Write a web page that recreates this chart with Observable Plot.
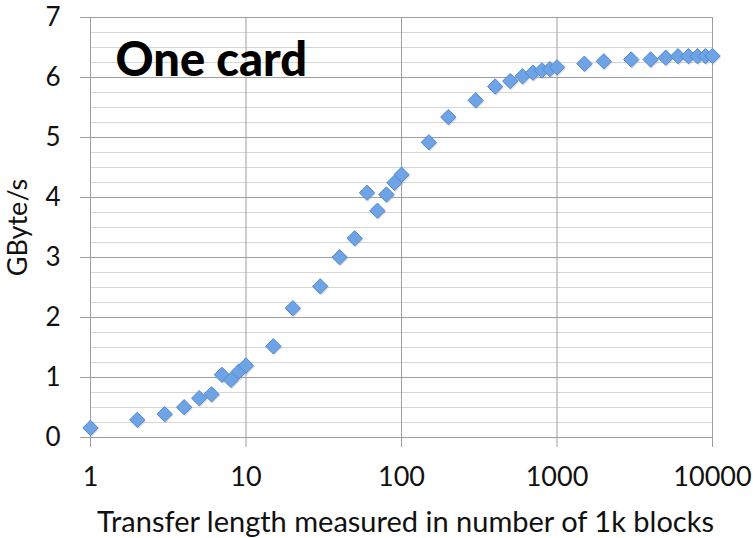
<!DOCTYPE html>
<html>
<head>
<meta charset="utf-8">
<script src="https://cdn.jsdelivr.net/npm/d3@7"></script>
<script src="https://cdn.jsdelivr.net/npm/@observablehq/plot@0.6"></script>
<style>
  html, body { margin: 0; padding: 0; background: #fff; }
</style>
</head>
<body>
<div id="chart"></div>
<script>
const blocks = [1,2,3,4,5,6,7,8,9,10,15,20,30,40,50,60,70,80,90,100,150,200,300,400,500,600,700,800,900,1000,1500,2000,3000,4000,5000,6000,7000,8000,9000,10000];
const gbytes = [0.16,0.295,0.39,0.505,0.655,0.72,1.045,0.96,1.10,1.20,1.52,2.155,2.52,3.005,3.32,4.08,3.78,4.05,4.245,4.38,4.92,5.34,5.62,5.85,5.94,6.02,6.08,6.12,6.14,6.17,6.23,6.27,6.30,6.30,6.33,6.355,6.355,6.355,6.355,6.36];
const xTicks = [1,10,100,1000,10000];
const yTicks = [0,1,2,3,4,5,6,7];
const yMinor = [0.25,0.5,0.75,1.25,1.5,1.75,2.25,2.5,2.75,3.25,3.5,3.75,4.25,4.5,4.75,5.25,5.5,5.75,6.25,6.5,6.75];
const titleText = ["One card"];
const xLabel = ["Transfer length measured in number of 1k blocks"];
const yLabel = ["GByte/s"];

const data = blocks.map((b, i) => ({x: b, y: gbytes[i]}));
const major = "#9e9e9e";

const chart = Plot.plot({
  width: 753,
  height: 538,
  marginLeft: 90,
  marginRight: 41,
  marginTop: 17,
  marginBottom: 101,
  x: {type: "log", domain: [1, 10000]},
  y: {domain: [0, 7]},
  style: {fontFamily: "Lato, 'Open Sans', sans-serif", background: "white", color: "#111"},
  marks: [
    Plot.ruleY(yMinor, {stroke: "#d6d6d6", strokeWidth: 1}),
    Plot.ruleY(yTicks, {stroke: major, strokeWidth: 1}),
    Plot.ruleX(xTicks, {stroke: major, strokeWidth: 1}),
    Plot.axisY({ticks: yTicks, tickSize: 10, tickPadding: 20, stroke: major, fill: "#111", fontSize: 26, label: null, tickFormat: d => String(d)}),
    Plot.axisX({ticks: xTicks, tickSize: 10, tickPadding: 19, stroke: major, fill: "#111", fontSize: 27, label: null, tickFormat: d => String(d)}),
    Plot.dot(data, {x: "x", y: "y", symbol: "diamond2", r: 6.9, fill: "#999", fillOpacity: 0.35, stroke: "none", dx: 1, dy: 1.5}),
    Plot.dot(data, {x: "x", y: "y", symbol: "diamond2", r: 6.9, fill: "#6ea3e5", stroke: "#5088d2", strokeWidth: 1}),
    Plot.text(titleText, {text: d => d, frameAnchor: "top-left", dx: 25, dy: 25, lineAnchor: "top", textAnchor: "start", fontSize: 47, fontWeight: 900, fill: "#000"}),
    Plot.text(yLabel, {text: d => d, frameAnchor: "left", dx: -72, rotate: -90, textAnchor: "middle", lineAnchor: "middle", fontSize: 27, fill: "#111"}),
    Plot.text(xLabel, {text: d => d, frameAnchor: "bottom", dx: 4, dy: 85, textAnchor: "middle", lineAnchor: "middle", fontSize: 29, fill: "#111"})
  ]
});
document.getElementById("chart").appendChild(chart);
</script>
</body>
</html>
